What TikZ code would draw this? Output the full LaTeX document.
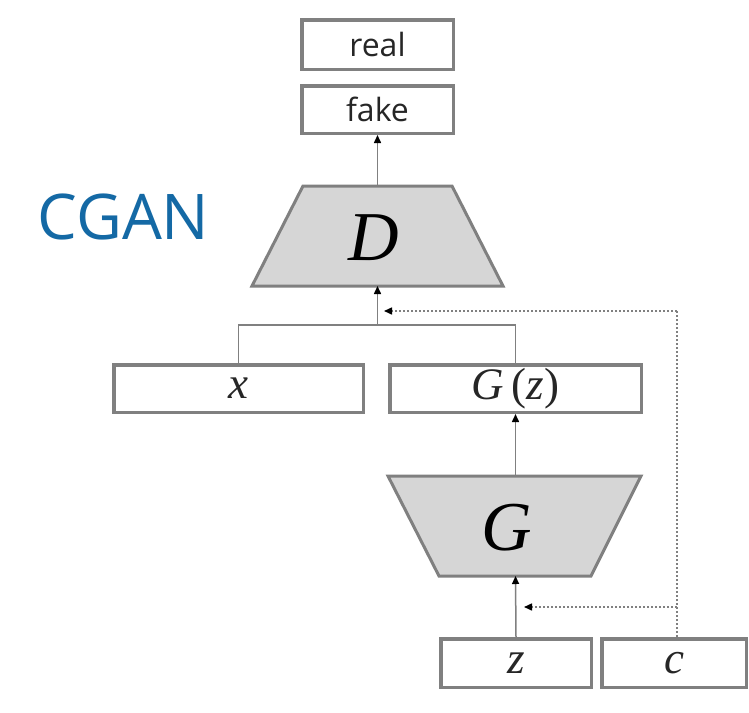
\documentclass[tikz,border=0pt]{standalone}
\usepackage{fontspec}
\setsansfont{Open Sans}
\newfontfamily\varfont{Liberation Serif}
\usetikzlibrary{arrows.meta}
\definecolor{boxgray}{RGB}{128,128,128}
\definecolor{fillgray}{RGB}{214,214,214}
\definecolor{txt}{RGB}{38,38,38}
\definecolor{cganblue}{RGB}{20,105,165}
\newcommand{\vi}[1]{{\itshape #1}}
\begin{document}
\begin{tikzpicture}[x=1pt,y=-1pt,
  box/.style={draw=boxgray,line width=3.5pt,fill=white,inner sep=0pt,text=txt},
  wordlbl/.style={font=\sffamily\fontsize{32}{36}\selectfont},
  mathlbl/.style={font=\varfont\fontsize{45}{50}\selectfont},
  bigmath/.style={font=\varfont\fontsize{70}{72}\selectfont},
  trap/.style={draw=boxgray,line width=3pt,fill=fillgray,line join=miter},
  conn/.style={draw=boxgray,line width=1.5pt},
  arr/.style={conn,-{Triangle[length=8pt,width=7pt,color=black]}},
  dotline/.style={draw=boxgray,line width=1.5pt,dash pattern=on 2pt off 2pt},
  dots/.style={dotline,-{Triangle[length=8pt,width=7pt,color=black]}}
]
\useasboundingbox[fill=white] (0,0) rectangle (749,712);
\node[text=cganblue,font=\sffamily\fontsize{63}{66}\selectfont] (title) at (123.5,217) {CGAN};
\node[box,wordlbl,minimum width=151.5pt,minimum height=49.5pt] (real) at (377.5,44.5) {real};
\node[box,wordlbl,minimum width=151.5pt,minimum height=47.5pt] (fake) at (377.5,109.5) {fake};
% D trapezium
\coordinate (Dt) at (377.5,186);
\coordinate (Db) at (377.5,286);
\path[trap] (303,186) -- (452,186) -- (503,286) -- (252,286) -- cycle;
\node[bigmath] (D) at (374,238) {\vi{D}};
\node[box,mathlbl,minimum width=249.5pt,minimum height=47.5pt] (xb) at (238.5,388.5) {\vi{x}};
\node[box,mathlbl,minimum width=251.5pt,minimum height=47.5pt] (Gz) at (515.5,388.5) {\vi{G}\,(\vi{z})};
% G trapezium
\coordinate (Gt) at (515.5,476);
\coordinate (Gb) at (515.5,576);
\path[trap] (388,476) -- (641,476) -- (591,576) -- (439,576) -- cycle;
\node[bigmath] (G) at (507,528) {\vi{G}};
\node[box,mathlbl,minimum width=150.5pt,minimum height=48.5pt] (zb) at (516,663) {\vi{z}};
\node[box,mathlbl,minimum width=144.5pt,minimum height=48.5pt] (cb) at (674,663) {\vi{c}};
\coordinate (jn) at (377.5,325);
\coordinate (cD) at (384,311);
\coordinate (cG) at (524,607);
\coordinate (cc) at (677,607);
\coordinate (ctop) at (677,311);
\draw[arr] (Dt) -- (fake.south);
\draw[conn] (xb.north) |- (jn) -| (Gz.north);
\draw[arr] (jn) -- (Db);
\draw[arr] (Gt) -- (Gz.south);
\draw[arr] (zb.north) -- (Gb);
\draw[dotline] (cb.north -| ctop) -- (ctop);
\draw[dots] (ctop) -- (cD);
\draw[dots] (cc) -- (cG);
\end{tikzpicture}
\end{document}
